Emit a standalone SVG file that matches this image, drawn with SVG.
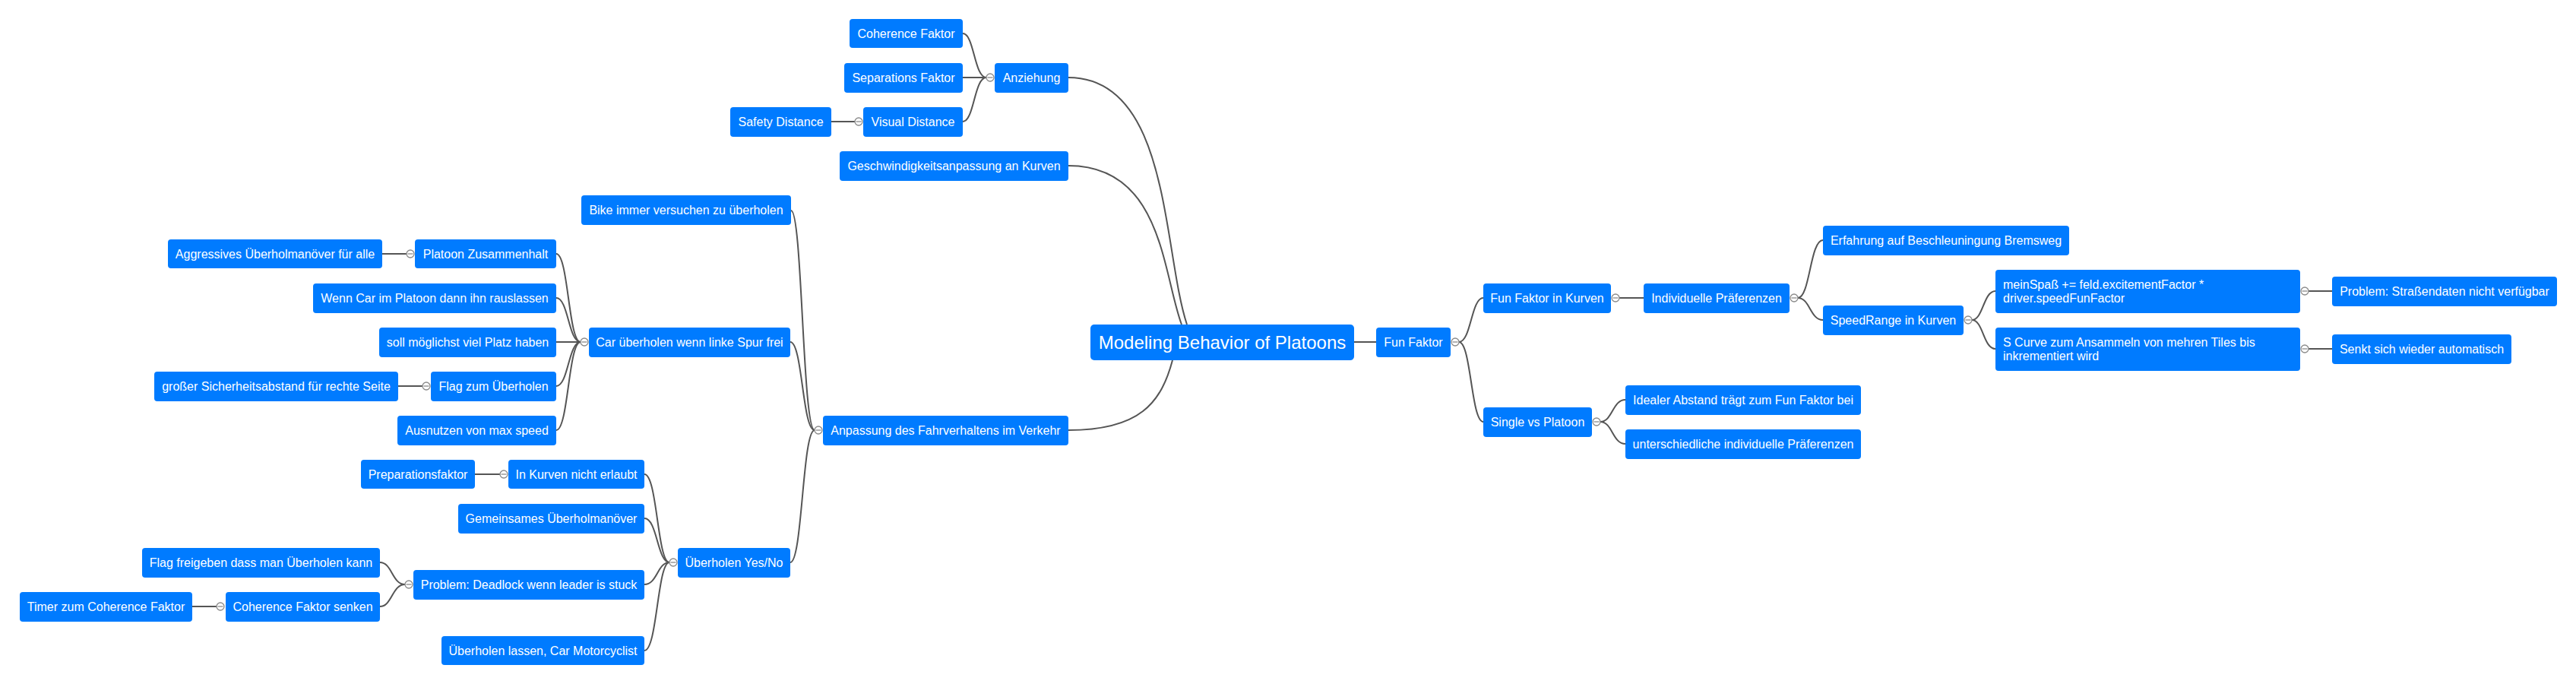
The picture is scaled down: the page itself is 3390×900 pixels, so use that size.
<svg xmlns="http://www.w3.org/2000/svg" xmlns:xlink="http://www.w3.org/1999/xlink" width="3390" height="900" viewBox="0 0 3390 900">
<style>
.n rect{fill:#007bff;}
.n text{fill:#ffffff;font-family:"Liberation Sans",Arial,sans-serif;font-size:16px;text-anchor:middle;}
.n text.l{text-anchor:start;}
#root text{font-size:24px;}
.c path,.c line{fill:none;stroke:#555555;stroke-width:2;}
.t circle{fill:#ffffff;stroke:#8a8a8a;stroke-width:1.3;}
.t line{stroke:#8a8a8a;stroke-width:1.3;}
</style>
<defs>
<g id="tog" class="t"><circle cx="0" cy="0" r="5"/><line x1="-3.5" y1="0" x2="3.5" y2="0"/></g>
</defs>
<rect width="3390" height="900" fill="#ffffff"/>
<g id="connectors" class="c">
<!-- root to left top -->
<path d="M1406,102 C1540,102 1530,330 1562,427"/>
<path d="M1406,218 C1530,218 1530,360 1555,427"/>
<path d="M1406,566 C1500,566 1528,530 1543,474"/>
<line x1="1782" y1="450" x2="1811" y2="450"/>
<!-- Anziehung group -->
<path d="M1267,44 C1282,44 1282,102 1298,102"/>
<path d="M1267,102 L1298,102"/>
<path d="M1267,160 C1282,160 1282,102 1298,102"/>
<line x1="1094" y1="160" x2="1125" y2="160"/>
<!-- Anpassung group -->
<path d="M1041,277 C1056,277 1056,566 1072,566"/>
<path d="M1040,450 C1056,450 1056,566 1072,566"/>
<path d="M1040,740 C1056,740 1056,566 1072,566"/>
<!-- Car ueberholen group -->
<path d="M732,334 C748,334 748,450 764,450"/>
<path d="M732,392 C748,392 748,450 764,450"/>
<path d="M732,450 L764,450"/>
<path d="M732,508 C748,508 748,450 764,450"/>
<path d="M732,566 C748,566 748,450 764,450"/>
<line x1="503" y1="334" x2="535" y2="334"/>
<line x1="524" y1="508" x2="556" y2="508"/>
<!-- Ueberholen Yes/No group -->
<path d="M848,624 C865,624 865,740 881,740"/>
<path d="M848,682 C865,682 865,740 881,740"/>
<path d="M848,769 C865,769 865,740 881,740"/>
<path d="M848,856 C865,856 865,740 881,740"/>
<line x1="625" y1="624" x2="658" y2="624"/>
<!-- Problem deadlock group -->
<path d="M500,740 C516,740 516,769 533,769"/>
<path d="M500,798 C516,798 516,769 533,769"/>
<line x1="253" y1="798" x2="285" y2="798"/>
<!-- Fun Faktor group -->
<path d="M1920,450 C1936,450 1936,392 1952,392"/>
<path d="M1920,450 C1936,450 1936,555 1952,555"/>
<line x1="2131" y1="392" x2="2163" y2="392"/>
<path d="M2366,392 C2382,392 2382,316 2399,316"/>
<path d="M2366,392 C2382,392 2382,421 2399,421"/>
<path d="M2595,421 C2610,421 2610,383 2626,383"/>
<path d="M2595,421 C2610,421 2610,459 2626,459"/>
<line x1="3038" y1="383" x2="3069" y2="383"/>
<line x1="3038" y1="459" x2="3069" y2="459"/>
<path d="M2106,555 C2122,555 2122,526 2139,526"/>
<path d="M2106,555 C2122,555 2122,584 2139,584"/>
</g>
<g id="toggles">
<use xlink:href="#tog" href="#tog" x="1303" y="102"/>
<use xlink:href="#tog" href="#tog" x="1130" y="160"/>
<use xlink:href="#tog" href="#tog" x="1077" y="566"/>
<use xlink:href="#tog" href="#tog" x="769" y="450"/>
<use xlink:href="#tog" href="#tog" x="540" y="334"/>
<use xlink:href="#tog" href="#tog" x="561" y="508"/>
<use xlink:href="#tog" href="#tog" x="886" y="740"/>
<use xlink:href="#tog" href="#tog" x="663" y="624"/>
<use xlink:href="#tog" href="#tog" x="538" y="769"/>
<use xlink:href="#tog" href="#tog" x="290" y="798"/>
<use xlink:href="#tog" href="#tog" x="1915" y="450"/>
<use xlink:href="#tog" href="#tog" x="2126" y="392"/>
<use xlink:href="#tog" href="#tog" x="2361" y="392"/>
<use xlink:href="#tog" href="#tog" x="2590" y="421"/>
<use xlink:href="#tog" href="#tog" x="3033" y="383"/>
<use xlink:href="#tog" href="#tog" x="3033" y="459"/>
<use xlink:href="#tog" href="#tog" x="2101" y="555"/>
</g>
<g id="root" class="n"><rect x="1435" y="427" width="347" height="47" rx="5"/><text x="1608.5" y="459">Modeling Behavior of Platoons</text></g>
<g id="n-anziehung" class="n"><rect x="1309" y="83" width="97" height="39" rx="4"/><text x="1357.5" y="108">Anziehung</text></g>
<g id="n-coherence" class="n"><rect x="1118" y="25" width="149" height="38" rx="4"/><text x="1192.5" y="50">Coherence Faktor</text></g>
<g id="n-separations" class="n"><rect x="1111" y="83" width="156" height="39" rx="4"/><text x="1189" y="108">Separations Faktor</text></g>
<g id="n-visual" class="n"><rect x="1136" y="141" width="131" height="39" rx="4"/><text x="1201.5" y="166">Visual Distance</text></g>
<g id="n-safety" class="n"><rect x="961" y="141" width="133" height="39" rx="4"/><text x="1027.5" y="166">Safety Distance</text></g>
<g id="n-geschw" class="n"><rect x="1105" y="199" width="301" height="39" rx="4"/><text x="1255.5" y="224">Geschwindigkeitsanpassung an Kurven</text></g>
<g id="n-anpassung" class="n"><rect x="1083" y="547" width="323" height="39" rx="4"/><text x="1244.5" y="572">Anpassung des Fahrverhaltens im Verkehr</text></g>
<g id="n-bike" class="n"><rect x="765" y="257" width="276" height="39" rx="4"/><text x="903" y="282">Bike immer versuchen zu überholen</text></g>
<g id="n-car" class="n"><rect x="775" y="431" width="265" height="39" rx="4"/><text x="907.5" y="456">Car überholen wenn linke Spur frei</text></g>
<g id="n-platoonzus" class="n"><rect x="546" y="315" width="186" height="38" rx="4"/><text x="639" y="340">Platoon Zusammenhalt</text></g>
<g id="n-aggressiv" class="n"><rect x="221" y="315" width="282" height="38" rx="4"/><text x="362" y="340">Aggressives Überholmanöver für alle</text></g>
<g id="n-wenncar" class="n"><rect x="412" y="373" width="320" height="39" rx="4"/><text x="572" y="398">Wenn Car im Platoon dann ihn rauslassen</text></g>
<g id="n-soll" class="n"><rect x="499" y="431" width="233" height="39" rx="4"/><text x="615.5" y="456">soll möglichst viel Platz haben</text></g>
<g id="n-flagzum" class="n"><rect x="567" y="489" width="165" height="39" rx="4"/><text x="649.5" y="514">Flag zum Überholen</text></g>
<g id="n-grosser" class="n"><rect x="203" y="489" width="321" height="39" rx="4"/><text x="363.5" y="514">großer Sicherheitsabstand für rechte Seite</text></g>
<g id="n-ausnutzen" class="n"><rect x="523" y="547" width="209" height="39" rx="4"/><text x="627.5" y="572">Ausnutzen von max speed</text></g>
<g id="n-yesno" class="n"><rect x="892" y="721" width="148" height="39" rx="4"/><text x="966" y="746">Überholen Yes/No</text></g>
<g id="n-inkurven" class="n"><rect x="669" y="605" width="179" height="38" rx="4"/><text x="758.5" y="630">In Kurven nicht erlaubt</text></g>
<g id="n-prep" class="n"><rect x="475" y="605" width="150" height="38" rx="4"/><text x="550" y="630">Preparationsfaktor</text></g>
<g id="n-gemeinsam" class="n"><rect x="603" y="663" width="245" height="39" rx="4"/><text x="725.5" y="688">Gemeinsames Überholmanöver</text></g>
<g id="n-deadlock" class="n"><rect x="544" y="750" width="304" height="39" rx="4"/><text x="696" y="775">Problem: Deadlock wenn leader is stuck</text></g>
<g id="n-flagfrei" class="n"><rect x="187" y="721" width="313" height="39" rx="4"/><text x="343.5" y="746">Flag freigeben dass man Überholen kann</text></g>
<g id="n-cohsenken" class="n"><rect x="297" y="779" width="203" height="39" rx="4"/><text x="398.5" y="804">Coherence Faktor senken</text></g>
<g id="n-timer" class="n"><rect x="26" y="779" width="227" height="39" rx="4"/><text x="139.5" y="804">Timer zum Coherence Faktor</text></g>
<g id="n-lassen" class="n"><rect x="581" y="837" width="267" height="38" rx="4"/><text x="714.5" y="862">Überholen lassen, Car Motorcyclist</text></g>
<g id="n-fun" class="n"><rect x="1811" y="431" width="98" height="39" rx="4"/><text x="1860" y="456">Fun Faktor</text></g>
<g id="n-funkurven" class="n"><rect x="1952" y="373" width="168" height="39" rx="4"/><text x="2036" y="398">Fun Faktor in Kurven</text></g>
<g id="n-indiv" class="n"><rect x="2163" y="373" width="192" height="39" rx="4"/><text x="2259" y="398">Individuelle Präferenzen</text></g>
<g id="n-erfahrung" class="n"><rect x="2399" y="297" width="324" height="39" rx="4"/><text x="2561" y="322">Erfahrung auf Beschleuningung Bremsweg</text></g>
<g id="n-speedrange" class="n"><rect x="2399" y="402" width="185" height="39" rx="4"/><text x="2491.5" y="427">SpeedRange in Kurven</text></g>
<g id="n-meinspass" class="n"><rect x="2626" y="355" width="401" height="57" rx="4"/><text class="l" x="2636" y="380">meinSpaß += feld.excitementFactor *</text><text class="l" x="2636" y="398">driver.speedFunFactor</text></g>
<g id="n-scurve" class="n"><rect x="2626" y="431" width="401" height="57" rx="4"/><text class="l" x="2636" y="456">S Curve zum Ansammeln von mehren Tiles bis</text><text class="l" x="2636" y="474">inkrementiert wird</text></g>
<g id="n-strassen" class="n"><rect x="3069" y="364" width="296" height="39" rx="4"/><text x="3217" y="389">Problem: Straßendaten nicht verfügbar</text></g>
<g id="n-senkt" class="n"><rect x="3069" y="440" width="236" height="39" rx="4"/><text x="3187" y="465">Senkt sich wieder automatisch</text></g>
<g id="n-single" class="n"><rect x="1952" y="536" width="143" height="39" rx="4"/><text x="2023.5" y="561">Single vs Platoon</text></g>
<g id="n-idealer" class="n"><rect x="2139" y="507" width="310" height="39" rx="4"/><text x="2294" y="532">Idealer Abstand trägt zum Fun Faktor bei</text></g>
<g id="n-unterschied" class="n"><rect x="2139" y="565" width="310" height="39" rx="4"/><text x="2294" y="590">unterschiedliche individuelle Präferenzen</text></g>
</svg>
